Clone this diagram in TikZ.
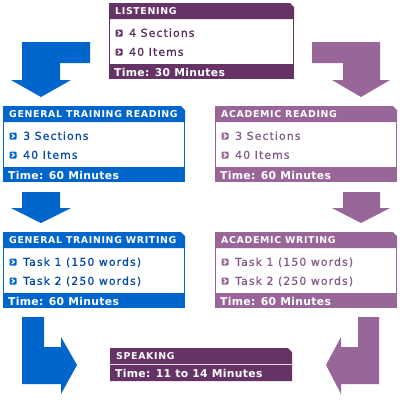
\documentclass[tikz,border=0pt]{standalone}
\usepackage{fontspec}
\usetikzlibrary{calc}
\setmainfont{DejaVu Sans}
\newfontfamily\itemfont[LetterSpace=10,FakeBold=0.6]{DejaVu Sans}
\newfontfamily\headfont[LetterSpace=7]{DejaVu Sans Bold}
\newfontfamily\footfont[LetterSpace=3]{DejaVu Sans Bold}
\definecolor{gtblue}{HTML}{0066CC}
\definecolor{gttext}{HTML}{0048A8}
\definecolor{acpurple}{HTML}{996699}
\definecolor{actext}{HTML}{875787}
\definecolor{dkpurple}{HTML}{663366}
\definecolor{dktext}{HTML}{552555}
\tikzset{
  headtxt/.style={anchor=base west, inner sep=0pt, text=white, font=\headfont\fontsize{9.4}{9.4}\selectfont},
  foottxt/.style={anchor=base west, inner sep=0pt, text=white, font=\footfont\fontsize{10.8}{10.8}\selectfont},
  itemtxt/.style={anchor=base west, inner sep=0pt, font=\itemfont\fontsize{10.9}{10.9}\selectfont},
  boxframe/.style={draw=none, inner sep=0pt, anchor=north west},
}
% bullet: #1 name, #2 colour
\newcommand\bulletat[2]{%
  \fill[#2, rounded corners=1pt] ($(#1)+(-3.5,-3.5)$) rectangle ($(#1)+(3.5,3.5)$);
  \draw[white, line width=1.3pt] ($(#1)+(-1.2,-2)$) -- ($(#1)+(1.2,0)$) -- ($(#1)+(-1.2,2)$);
}
% panel: #1 name, #2 x, #3 y, #4 w, #5 colour, #6 text colour, #7 title, #8 item1, #9 item2
\newcommand\panel[9]{%
  \node[boxframe, minimum width=#4pt, minimum height=76pt] (#1) at (#2,#3) {};
  \fill[#5] (#1.north west) -- ++(#4-4,0) -- ++(4,4) -- ++(0,12) -- ++(-#4,0) -- cycle;
  \draw[#5, line width=1pt] ($(#1.north west)+(0.5,16)$) -- ++(0,45) ($(#1.north east)+(-0.5,16)$) -- ++(0,45);
  \fill[#5] ($(#1.north west)+(0,61)$) rectangle ($(#1.north east)+(0,76)$);
  \node[headtxt] (#1-title) at ($(#1.north west)+(6,11.8)$) {#7};
  \coordinate (#1-b1) at ($(#1.north west)+(10,30)$);
  \coordinate (#1-b2) at ($(#1.north west)+(10,49)$);
  \bulletat{#1-b1}{#5}
  \bulletat{#1-b2}{#5}
  \node[itemtxt, text=#6] (#1-i1) at ($(#1.north west)+(20,33.8)$) {#8};
  \node[itemtxt, text=#6] (#1-i2) at ($(#1.north west)+(20,52.8)$) {#9};
}
\begin{document}
\begin{tikzpicture}[x=1pt, y=-1pt]
\useasboundingbox (0,0) rectangle (400,400);
\fill[white] (0,0) rectangle (400,400);

% arrows
\fill[gtblue] (22,42) -- (90,42) -- (90,63) -- (60,63) -- (60,80) -- (71,80) -- (41,97) -- (11,80) -- (22,80) -- cycle;
\fill[acpurple] (312,42) -- (380,42) -- (380,80) -- (390,80) -- (361,97) -- (332,80) -- (343,80) -- (343,63) -- (312,63) -- cycle;
\fill[gtblue] (22,192) -- (60,192) -- (60,208) -- (71,208) -- (41,223) -- (11,208) -- (22,208) -- cycle;
\fill[acpurple] (343,192) -- (380,192) -- (380,208) -- (390,208) -- (361,223) -- (332,208) -- (343,208) -- cycle;
\fill[gtblue] (22,317) -- (44,317) -- (44,347) -- (61,347) -- (61,337) -- (77,365) -- (61,394) -- (61,384) -- (22,384) -- cycle;
\fill[acpurple] (379,317) -- (358,317) -- (358,347) -- (341,347) -- (341,337) -- (326,365) -- (341,394) -- (341,384) -- (379,384) -- cycle;

% panels
\panel{lis}{109}{3}{185}{dkpurple}{dktext}{LISTENING}{4 Sections}{40 Items}
\node[foottxt] (lis-time) at ($(lis.north west)+(5,73)$) {Time: 30 Minutes};

\panel{gtr}{3}{106}{182}{gtblue}{gttext}{GENERAL TRAINING READING}{3 Sections}{40 Items}
\node[foottxt] (gtr-time) at ($(gtr.north west)+(5,73)$) {Time: 60 Minutes};

\panel{acr}{215}{106}{182}{acpurple}{actext}{ACADEMIC READING}{3 Sections}{40 Items}
\node[foottxt] (acr-time) at ($(acr.north west)+(5,73)$) {Time: 60 Minutes};

\panel{gtw}{3}{232}{182}{gtblue}{gttext}{GENERAL TRAINING WRITING}{Task 1 (150 words)}{Task 2 (250 words)}
\node[foottxt] (gtw-time) at ($(gtw.north west)+(5,73)$) {Time: 60 Minutes};

\panel{acw}{215}{232}{182}{acpurple}{actext}{ACADEMIC WRITING}{Task 1 (150 words)}{Task 2 (250 words)}
\node[foottxt] (acw-time) at ($(acw.north west)+(5,73)$) {Time: 60 Minutes};

% speaking
\node[boxframe, minimum width=182pt, minimum height=33pt] (spk) at (110,348) {};
\fill[dkpurple] (spk.north west) -- ++(178,0) -- ++(4,4) -- ++(0,29) -- ++(-182,0) -- cycle;
\draw[white!80!dkpurple, line width=0.8pt] ($(spk.north west)+(0,16.5)$) -- ($(spk.north east)+(0,16.5)$);
\node[headtxt] (spk-title) at ($(spk.north west)+(6,11.8)$) {SPEAKING};
\node[foottxt] (spk-time) at ($(spk.north west)+(5,29)$) {Time: 11 to 14 Minutes};
\end{tikzpicture}
\end{document}
